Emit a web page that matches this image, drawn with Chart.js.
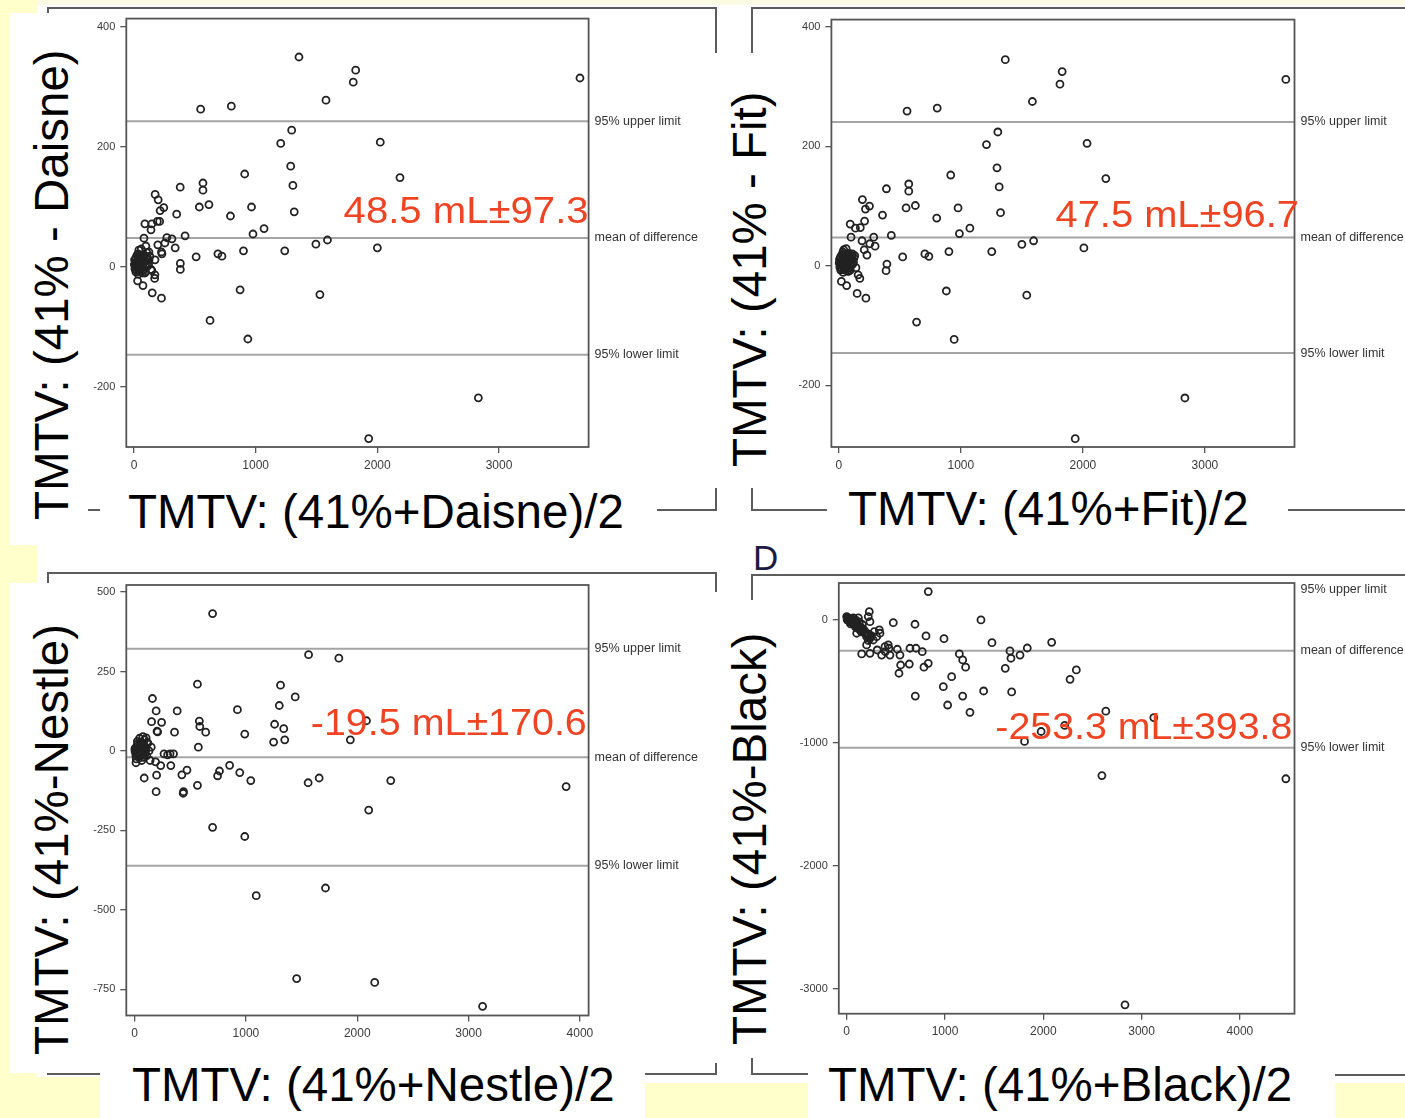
<!DOCTYPE html>
<html>
<head>
<meta charset="utf-8">
<script src="https://cdn.jsdelivr.net/npm/chart.js@4.4.1/dist/chart.umd.min.js"></script>
<style>
  html, body { margin: 0; padding: 0; }
  body { width: 1405px; height: 1118px; background: #ffffcc; position: relative; overflow: hidden;
         font-family: 'Liberation Sans', Arial, sans-serif; }
  .blk { position: absolute; background: #fff; }
  .ln { position: absolute; background: #5c5c5c; }
  canvas { position: absolute; }
  .ttl { position: absolute; font-size: 47.5px; line-height: 47.5px; color: #000; white-space: nowrap; }
  .rot { transform-origin: 0 0; transform: rotate(-90deg); }
  .tag { position: absolute; font-size: 35px; line-height: 35px; color: #1b1b45; }
</style>
</head>
<body>
<div class="blk" style="left:37px;top:0;width:1368px;height:5px;background:#fbfbe4"></div>
<div class="blk" style="left:37px;top:5px;width:1368px;height:1078px"></div>
<div class="blk" style="left:0;top:1077px;width:100px;height:41px;background:#ffffcc"></div>

<!-- panel frames -->
<div class="ln" style="left:47px;top:7px;width:670px;height:2px"></div>
<div class="ln" style="left:47px;top:7px;width:2px;height:504px"></div>
<div class="ln" style="left:715px;top:7px;width:2px;height:46px"></div>
<div class="ln" style="left:715px;top:488px;width:2px;height:23px"></div>
<div class="ln" style="left:47px;top:509px;width:670px;height:2px"></div>

<div class="ln" style="left:751px;top:7px;width:654px;height:2px"></div>
<div class="ln" style="left:751px;top:7px;width:2px;height:46px"></div>
<div class="ln" style="left:751px;top:488px;width:2px;height:23px"></div>
<div class="ln" style="left:751px;top:509px;width:76px;height:2px"></div>
<div class="ln" style="left:1288px;top:509px;width:117px;height:2px"></div>

<div class="ln" style="left:47px;top:572px;width:670px;height:2px"></div>
<div class="ln" style="left:47px;top:572px;width:2px;height:503px"></div>
<div class="ln" style="left:715px;top:572px;width:2px;height:20px"></div>
<div class="ln" style="left:715px;top:1063px;width:2px;height:12px"></div>
<div class="ln" style="left:47px;top:1073px;width:670px;height:2px"></div>

<div class="ln" style="left:751px;top:574px;width:654px;height:2px"></div>
<div class="ln" style="left:751px;top:574px;width:2px;height:26px"></div>
<div class="ln" style="left:751px;top:1058px;width:2px;height:17px"></div>
<div class="ln" style="left:751px;top:1073px;width:57px;height:2px"></div>
<div class="ln" style="left:1335px;top:1074px;width:70px;height:2px"></div>

<!-- title backgrounds -->
<div class="blk" style="left:10px;top:13px;width:78px;height:532px"></div>
<div class="blk" style="left:10px;top:583px;width:78px;height:490px"></div>
<div class="blk" style="left:100px;top:486px;width:557px;height:50px"></div>
<div class="blk" style="left:827px;top:486px;width:461px;height:50px"></div>
<div class="blk" style="left:100px;top:1045px;width:545px;height:73px"></div>
<div class="blk" style="left:808px;top:1045px;width:527px;height:73px"></div>

<div class="ttl rot" style="left:28px;top:520px">TMTV: (41% - Daisne)</div>
<div class="ttl rot" style="left:726px;top:467px">TMTV: (41% - Fit)</div>
<div class="ttl rot" style="left:28px;top:1055px">TMTV: (41%-Nestle)</div>
<div class="ttl rot" style="left:726px;top:1045px">TMTV: (41%-Black)</div>
<div class="ttl" style="left:128px;top:488px">TMTV: (41%+Daisne)/2</div>
<div class="ttl" style="left:848px;top:485px">TMTV: (41%+Fit)/2</div>
<div class="ttl" style="left:132px;top:1061px">TMTV: (41%+Nestle)/2</div>
<div class="ttl" style="left:828px;top:1061px">TMTV: (41%+Black)/2</div>
<div class="tag" style="left:753px;top:540px">D</div>

<script>
// tick values
const xTicksA = [0, 1000, 2000, 3000];
const xTicksB = [0, 1000, 2000, 3000, 4000];
const yTicksDaisne = [-200, 0, 200, 400];
const yTicksFit = [-200, 0, 200, 400];
const yTicksNestle = [-750, -500, -250, 0, 250, 500];
const yTicksBlack = [-3000, -2000, -1000, 0];

// mean difference and SD per comparison (Daisne, Fit, Nestle, Black)
const meanDiff = [48.5, 47.5, -19.5, -253.3];
const sdDiff = [97.3, 96.7, 170.6, 393.8];
const limitLabels = ['95% upper limit', 'mean of difference', '95% lower limit'];

// [average, difference] per patient
const daisnePoints = [
  [1356,350],[1822,328],[1802,308],[3665,315],[548,263],[800,268],[1578,278],[1296,228],[1206,206],[2024,208],
  [1288,168],[910,155],[2186,149],[1306,136],[380,133],[567,140],[567,128],[174,121],[199,112],[245,99],
  [215,94],[147,72],[90,72],[192,76],[211,76],[351,88],[420,52],[270,49],[254,40],[196,37],
  [226,25],[123,25],[98,35],[173,12],[339,32],[312,47],[82,48],[511,17],[690,22],[723,18],
  [900,27],[1239,27],[1495,38],[1590,45],[2000,32],[381,6],[381,-4],[872,-38],[1528,-46],[625,-89],
  [936,-120],[2830,-218],[1929,-286],[30,-23],[74,-31],[150,-43],[226,-52],[170,-19],[172,-13],[90,-10],
  [147,-6],[966,100],[793,85],[1069,64],[978,55],[537,100],[616,104],[1317,92],[140,62],[230,22],
  [10,5],[20,0],[30,10],[45,-5],[55,15],[65,2],[80,8],[25,20],[40,28],[70,-10],
  [100,0],[110,12],[15,-8],[35,-12],[50,5],[60,30],[120,5],[130,18],[5,12],[40,2],
  [75,18],[95,10],[140,-4],[8,-3],[28,4],[18,16],[60,-2],[105,24],
  [12,2],[22,8],[32,-2],[42,12],[52,-8],[62,6],[72,14],[82,-4],[92,4],[102,16],
  [14,14],[24,-6],[34,22],[44,8],[54,-2],[64,10],[74,4],[84,20],[94,-8],[114,2],
  [124,12],[3,4],[48,18],[68,-6]
];
const fitPoints = [
  [1364,345],[1830,325],[1812,304],[3663,312],[559,259],[806,264],[1586,275],[1303,224],[1210,203],[2034,205],
  [1296,164],[917,152],[2188,146],[1314,132],[390,129],[573,137],[573,125],[193,111],[218,95],[251,100],
  [93,70],[136,63],[211,75],[358,85],[551,97],[627,101],[802,80],[977,97],[1325,89],[988,54],
  [1074,63],[286,48],[430,51],[100,48],[190,42],[254,37],[208,27],[297,33],[523,15],[705,20],
  [738,16],[902,24],[1253,24],[1500,36],[1596,42],[2008,30],[394,3],[387,-8],[881,-42],[1540,-49],
  [637,-94],[945,-123],[2836,-221],[1937,-289],[21,-26],[64,-33],[150,-46],[222,-54],[158,-15],[172,-21],
  [82,-9],[111,20],[176,64],[230,18],
  [10,6],[20,1],[30,9],[45,-4],[55,14],[65,3],[80,7],[25,19],[40,27],[70,-9],
  [100,1],[110,11],[15,-7],[35,-11],[50,6],[60,29],[120,6],[130,17],[5,11],[40,3],
  [75,17],[95,9],[140,-3],[8,-2],[28,5],[18,15],[60,-1],
  [12,3],[22,9],[32,-1],[42,13],[52,-7],[62,7],[72,15],[82,-3],[92,5],[102,17],
  [14,15],[24,-5],[34,23],[44,9],[54,-1],[64,11],[74,5],[84,21],[94,-7],[114,3],
  [124,13],[3,5],[48,19],[68,-5]
];
const nestlePoints = [
  [701,432],[1563,303],[1835,292],[565,210],[1311,207],[1443,170],[1300,143],[161,165],[194,126],[383,126],
  [924,130],[243,90],[582,94],[586,77],[359,59],[639,59],[990,53],[1258,84],[1340,70],[1349,35],
  [1249,28],[573,12],[1938,35],[2083,95],[202,62],[153,92],[319,-9],[265,-9],[350,-9],[297,-12],
  [189,-34],[235,-46],[326,-46],[854,-45],[763,-63],[746,-78],[471,-60],[425,-75],[945,-68],[1044,-93],
  [198,-76],[87,-85],[13,-37],[565,-108],[437,-133],[440,-128],[194,-128],[1658,-85],[1559,-100],[2301,-93],
  [3876,-112],[2103,-186],[701,-240],[990,-269],[1093,-455],[1715,-431],[1456,-716],[2157,-728],[3126,-803],[104,41],
  [113,25],[207,60],
  [10,5],[20,-5],[30,15],[40,0],[50,-10],[60,20],[70,8],[80,-20],[90,35],[100,10],
  [110,-15],[120,25],[25,30],[45,40],[15,-25],[35,-15],[55,5],[75,45],[95,-5],[130,0],
  [140,-30],[5,-2],[65,-30],[85,18],[150,12],
  [8,10],[16,-8],[24,4],[32,-12],[40,12],[48,-4],[56,18],[64,-14],[72,2],[82,10],
  [92,-10],[102,4],[12,-14],[28,22],[44,-22],[60,6],[78,-6],[3,6],[36,4],[50,26]
];
const blackPoints = [
  [830,227],[230,64],[220,24],[237,-17],[474,-25],[695,-38],[807,-133],[990,-155],[1366,-3],[1478,-188],
  [2085,-185],[1837,-231],[1661,-255],[1763,-288],[1671,-314],[1613,-396],[2336,-409],[2272,-485],[1146,-279],[1180,-328],
  [1210,-387],[1068,-464],[983,-545],[1393,-580],[1678,-588],[1180,-621],[1027,-694],[1254,-753],[698,-621],[769,-261],
  [705,-233],[644,-233],[515,-241],[542,-288],[549,-369],[532,-436],[637,-361],[786,-387],[830,-355],[430,-233],
  [390,-220],[393,-261],[311,-247],[356,-288],[440,-288],[423,-206],[332,-84],[339,-111],[271,-166],[203,-206],
  [153,-279],[237,-274],[281,-98],[305,-139],[203,-139],[102,-111],[135,-57],[2636,-744],[3124,-796],[2218,-860],
  [1978,-909],[1809,-990],[2596,-1267],[4467,-1293],[2831,-3129],
  [0,24],[17,5],[34,-17],[68,14],[84,-44],[102,-27],[119,14],[135,-84],[186,-111],[237,-152],
  [10,-5],[25,-10],[50,-20],[60,0],[45,10],[75,-30],[90,-60],[110,-70],[150,-100],[170,-80],
  [200,-120],[220,-170],[250,-130],[160,-40],[130,-20],[5,0],[40,-35],[95,-5],
  [8,15],[15,-2],[22,10],[30,-8],[38,0],[46,-22],[55,-12],[62,-30],[70,-20],[78,-40],
  [88,-35],[96,-52],[105,-45],[115,-62],[125,-58],[140,-75],[155,-70],[165,-95],[180,-90],[195,-105],
  [210,-128],[225,-118],[240,-140],[12,5],[28,-15],[52,5]
];

// page placement of each plot: canvas box and target plot area (left, top, right, bottom)
const panels = [
  { pts: daisnePoints, xt: xTicksA, yt: yTicksDaisne, xr: [-63, 3736], yr: [-300, 414],
    box: [50, 0, 670, 490], area: [126.3, 18.6, 588.6, 447], statY: 73.5, statDx: 0, statW: 245 },
  { pts: fitPoints, xt: xTicksA, yt: yTicksFit, xr: [-61, 3734], yr: [-303, 412],
    box: [760, 0, 645, 490], area: [831.4, 19.6, 1294.5, 447], statY: 65.6, statDx: 4.5, statW: 243.5 },
  { pts: nestlePoints, xt: xTicksB, yt: yTicksNestle, xr: [-74, 4078], yr: [-832, 522],
    box: [50, 565, 670, 490], area: [126.3, 585, 588.6, 1015.5], statY: 49, statDx: -1.8, statW: 276 },
  { pts: blackPoints, xt: xTicksB, yt: yTicksBlack, xr: [-80, 4555], yr: [-3201, 297],
    box: [760, 565, 645, 490], area: [838.8, 583, 1294.5, 1013.7], statY: -970, statDx: -2.2, statW: 297 }
];

const Y_W = 40, X_H = 30;
const FONT = "'Liberation Sans', Arial, sans-serif";

// reference lines, frame, line labels and the mean ± SD note
const blandAltman = {
  id: 'blandAltman',
  beforeDatasetsDraw(chart, args, o) {
    const { ctx, chartArea: a, scales: { y } } = chart;
    ctx.save();
    ctx.beginPath();
    ctx.rect(a.left, a.top, a.right - a.left, a.bottom - a.top);
    ctx.clip();
    ctx.strokeStyle = '#a4a4a4';
    ctx.lineWidth = 2;
    o.levels.forEach(v => {
      const py = y.getPixelForValue(v);
      ctx.beginPath();
      ctx.moveTo(a.left, py);
      ctx.lineTo(a.right, py);
      ctx.stroke();
    });
    ctx.restore();
  },
  afterDraw(chart, args, o) {
    const { ctx, chartArea: a, scales: { y } } = chart;
    ctx.save();
    ctx.strokeStyle = '#555';
    ctx.lineWidth = 1.8;
    ctx.strokeRect(a.left, a.top, a.right - a.left, a.bottom - a.top);

    ctx.fillStyle = '#333';
    ctx.font = '12.5px ' + FONT;
    ctx.textAlign = 'left';
    ctx.textBaseline = 'middle';
    o.levels.forEach((v, i) => {
      const py = Math.max(y.getPixelForValue(v), a.top + 7);
      ctx.fillText(limitLabels[i], a.right + 6, py);
    });

    ctx.font = '36px ' + FONT;
    ctx.fillStyle = '#ef4423';
    ctx.textAlign = 'right';
    ctx.textBaseline = 'alphabetic';
    const w = ctx.measureText(o.note).width;
    ctx.translate(a.right + o.noteDx, y.getPixelForValue(o.noteY));
    ctx.scale(o.noteW / w, 1);
    ctx.fillText(o.note, 0, 0);
    ctx.restore();
  }
};

panels.forEach((p, k) => {
  const cv = document.createElement('canvas');
  cv.width = p.box[2];
  cv.height = p.box[3];
  cv.style.left = p.box[0] + 'px';
  cv.style.top = p.box[1] + 'px';
  document.body.appendChild(cv);

  const m = meanDiff[k], sd = sdDiff[k];
  const levels = [m + 2 * sd, m, m - 2 * sd];
  const note = m.toFixed(1) + ' mL±' + sd.toFixed(1);

  const axisGrid = { display: true, drawOnChartArea: false, drawTicks: true, tickLength: 6, color: '#555', lineWidth: 1.3 };

  new Chart(cv.getContext('2d'), {
    type: 'scatter',
    data: {
      datasets: [{
        data: p.pts.map(d => ({ x: d[0], y: d[1] })),
        pointStyle: 'circle',
        pointRadius: 3.5,
        borderWidth: 1.8,
        borderColor: '#222',
        backgroundColor: 'rgba(0,0,0,0)'
      }]
    },
    options: {
      responsive: false,
      animation: false,
      events: [],
      layout: {
        padding: {
          left: p.area[0] - p.box[0] - Y_W,
          top: p.area[1] - p.box[1],
          right: p.box[0] + p.box[2] - p.area[2],
          bottom: p.box[1] + p.box[3] - p.area[3] - X_H
        }
      },
      plugins: {
        legend: { display: false },
        tooltip: { enabled: false },
        blandAltman: { levels, note, noteY: p.statY, noteDx: p.statDx, noteW: p.statW }
      },
      scales: {
        x: {
          type: 'linear', min: p.xr[0], max: p.xr[1],
          afterBuildTicks: s => { s.ticks = p.xt.map(v => ({ value: v })); },
          afterFit: s => { s.height = X_H; },
          grid: axisGrid,
          border: { display: false },
          ticks: { padding: 5, color: '#3a3a3a', font: { family: FONT, size: 12 }, maxRotation: 0, autoSkip: false,
                   callback: v => String(v) }
        },
        y: {
          type: 'linear', min: p.yr[0], max: p.yr[1],
          afterBuildTicks: s => { s.ticks = p.yt.map(v => ({ value: v })); },
          afterFit: s => { s.width = Y_W; },
          grid: axisGrid,
          border: { display: false },
          ticks: { padding: 5, color: '#3a3a3a', font: { family: FONT, size: 11 }, autoSkip: false,
                   callback: v => String(v) }
        }
      }
    },
    plugins: [blandAltman]
  });
});
</script>
</body>
</html>
